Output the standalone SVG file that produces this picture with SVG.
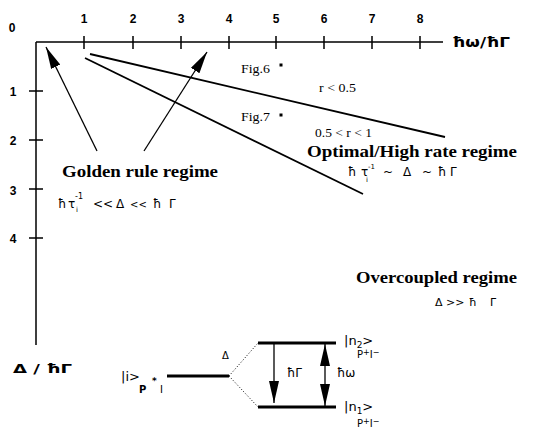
<svg xmlns="http://www.w3.org/2000/svg" width="533" height="429" viewBox="0 0 533 429">
<style>
.ax{stroke:#000;stroke-width:1.5;fill:none}
.tk{font-family:"Liberation Sans",Arial,sans-serif;font-weight:bold;font-size:12px;fill:#000;text-anchor:middle}
.ser{font-family:"Liberation Serif","Times New Roman",serif;fill:#000}
.hd{font-family:"Liberation Serif","Times New Roman",serif;font-weight:bold;fill:#000}
.sym{font-family:"DejaVu Sans","Liberation Sans",sans-serif;fill:#000}
.ln{stroke:#000;stroke-width:1.8;fill:none}
.lvl{stroke:#000;stroke-width:3;fill:none}
.dot{stroke:#000;stroke-width:1;stroke-dasharray:1,2;fill:none}
</style>
<defs>
<marker id="ah" markerUnits="userSpaceOnUse" markerWidth="22" markerHeight="10" refX="22" refY="5" orient="auto-start-reverse" viewBox="0 0 22 10">
<path d="M0,0 L22,5 L0,10 z" fill="#000"/>
</marker>
</defs>
<g id="axes">
<path class="ax" d="M36,42 H443 M36,42 V345"/>
<path class="ax" d="M84,36 V49 M133,36 V49 M181,36 V49 M229,36 V49 M276,36 V49 M324,36 V49 M372,36 V49 M420,36 V49"/>
<path class="ax" d="M29,91 H43 M29,140 H43 M29,189 H43 M29,238 H43"/>
<text class="tk" x="84" y="23">1</text>
<text class="tk" x="133" y="23">2</text>
<text class="tk" x="181" y="23">3</text>
<text class="tk" x="229" y="23">4</text>
<text class="tk" x="276" y="23">5</text>
<text class="tk" x="324" y="23">6</text>
<text class="tk" x="372" y="23">7</text>
<text class="tk" x="420" y="23">8</text>
<text class="tk" x="12" y="32">0</text>
<text class="tk" x="13" y="96">1</text>
<text class="tk" x="13" y="145">2</text>
<text class="tk" x="13" y="195">3</text>
<text class="tk" x="13" y="243">4</text>
<text class="sym" x="452" y="47" font-size="14" font-weight="bold" textLength="58" lengthAdjust="spacingAndGlyphs">ħω/ħΓ</text>
<text class="sym" x="13" y="373" font-size="13" font-weight="bold" textLength="59" lengthAdjust="spacingAndGlyphs">Δ / ħΓ</text>
</g>
<g id="connectors">
<line class="ln" x1="90" y1="54" x2="445" y2="137"/>
<line class="ln" x1="85" y1="58" x2="363" y2="194"/>
<line x1="97" y1="151" x2="46" y2="47" stroke="#000" stroke-width="1.3" marker-end="url(#ah)"/>
<line x1="144" y1="151" x2="207" y2="52" stroke="#000" stroke-width="1.3" marker-end="url(#ah)"/>
</g>
<g id="fig-points">
<text class="ser" x="241" y="73" font-size="12" textLength="29" lengthAdjust="spacingAndGlyphs">Fig.6</text>
<rect x="279.500" y="63.500" width="3" height="3" fill="#000"/>
<text class="ser" x="241" y="121" font-size="12" textLength="29" lengthAdjust="spacingAndGlyphs">Fig.7</text>
<rect x="279.500" y="113.500" width="3" height="3" fill="#000"/>
<text class="ser" x="319" y="92" font-size="12" textLength="37" lengthAdjust="spacingAndGlyphs">r &lt; 0.5</text>
<text class="ser" x="315" y="137" font-size="12" textLength="57" lengthAdjust="spacingAndGlyphs">0.5 &lt; r &lt; 1</text>
</g>
<g id="golden-rule">
<text class="hd" x="62" y="177" font-size="16" textLength="156" lengthAdjust="spacingAndGlyphs">Golden rule regime</text>
<text class="sym" x="58" y="208" font-size="12">ħ<tspan x="68">τ</tspan><tspan x="76" y="212" font-size="7">i</tspan><tspan x="75" y="199" font-size="8">-1</tspan><tspan x="93" y="208">&lt;&lt;</tspan><tspan x="116">Δ</tspan><tspan x="130" font-size="10">&lt;&lt;</tspan><tspan x="153">ħ</tspan><tspan x="169">Γ</tspan></text>
</g>
<g id="optimal">
<text class="hd" x="307" y="157" font-size="17" textLength="210" lengthAdjust="spacingAndGlyphs">Optimal/High rate regime</text>
<text class="sym" x="348" y="176" font-size="12">ħ<tspan x="361">τ</tspan><tspan x="366" y="182" font-size="7">i</tspan><tspan x="368" y="169" font-size="7">-1</tspan><tspan x="383" y="176">~</tspan><tspan x="403">Δ</tspan><tspan x="422">~</tspan><tspan x="438">ħ</tspan><tspan x="450">Γ</tspan></text>
</g>
<g id="overcoupled">
<text class="hd" x="356" y="283" font-size="16" textLength="161" lengthAdjust="spacingAndGlyphs">Overcoupled regime</text>
<text class="sym" x="435" y="306" font-size="11">Δ<tspan x="446">&gt;&gt;</tspan><tspan x="469">ħ</tspan><tspan x="490">Γ</tspan></text>
</g>
<g id="levels">
<line class="lvl" x1="167" y1="376" x2="229" y2="376"/>
<line class="lvl" x1="258" y1="343" x2="336" y2="343"/>
<line class="lvl" x1="258" y1="407" x2="336" y2="407"/>
<path class="dot" d="M229,376 L258,343 M229,376 L258,407"/>
<text class="sym" x="222" y="359" font-size="10">Δ</text>
<text class="sym" x="121" y="381" font-size="13">|i&gt;</text>
<text class="sym" x="139" y="393" font-size="10" font-weight="bold">P</text>
<text class="sym" x="152" y="384" font-size="9" font-weight="bold">*</text>
<text class="sym" x="160" y="393" font-size="10">I</text>
<line x1="274" y1="343" x2="274" y2="403" stroke="#000" stroke-width="1.3" marker-end="url(#ah)"/>
<text class="sym" x="287" y="377" font-size="12">ħΓ</text>
<line x1="325" y1="344" x2="325" y2="406" stroke="#000" stroke-width="1.3" marker-start="url(#ah)" marker-end="url(#ah)"/>
<text class="sym" x="337" y="377" font-size="12">ħω</text>
<text class="sym" x="344" y="345" font-size="13">|n<tspan font-size="9" dy="3">2</tspan><tspan dy="-3">&gt;</tspan></text>
<text class="sym" x="357" y="358" font-size="10">P<tspan dy="-3" font-size="8">+</tspan><tspan dy="3">I</tspan><tspan dy="-3" font-size="8">−</tspan></text>
<text class="sym" x="344" y="411" font-size="13">|n<tspan font-size="9" dy="3">1</tspan><tspan dy="-3">&gt;</tspan></text>
<text class="sym" x="357" y="427" font-size="10">P<tspan dy="-3" font-size="8">+</tspan><tspan dy="3">I</tspan><tspan dy="-3" font-size="8">−</tspan></text>
</g>
</svg>
